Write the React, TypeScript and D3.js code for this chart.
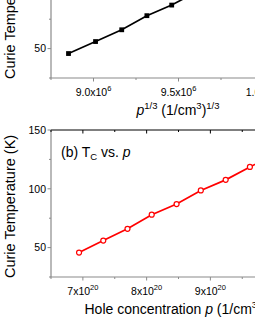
import React, { useEffect, useRef } from 'react';
import * as d3 from 'd3';

// Curie temperature (K), shared by both panels
const curieT = [45.8, 56, 66, 78, 87, 98.6, 107.6, 118.6, 129];
// hole concentration p, in units of 1e20 cm^-3
const holeConc = [6.94, 7.32, 7.7, 8.08, 8.47, 8.85, 9.24, 9.62, 10.0];
// p^(1/3), in units of 1e6 cm^-1
const pCbrt = [8.853, 9.012, 9.166, 9.314, 9.46, 9.61, 9.75, 9.87, 10.0];

const yMajor = [50, 100, 150];
const yMinor = [25, 75, 125];
const topMajor = [9.0, 9.5, 10.0];
const topMinor = [8.75, 9.25, 9.75, 10.25];
const topTickText = [['9.0x10', '6'], ['9.5x10', '6'], ['1.0x10', '7']];
const botMajor = [7, 8, 9, 10];
const botMinor = [6.5, 7.5, 8.5, 9.5, 10.5];

const FONT = 'Arial, "Liberation Sans", sans-serif';
const AXIS = '#8a8a8a';

const drawPanel = (svg, opts) => {
  const { top, bottom, xDomain, xs, major, minor, tickText, color, marker } = opts;
  const left = 51;
  const right = 306;
  const x = d3.scaleLinear().domain(xDomain).range([left, right]);
  const y = d3.scaleLinear().domain([25, 150]).range([bottom, top]);
  const g = svg.append('g');

  // frame
  g.append('line').attr('x1', left).attr('x2', right).attr('y1', top).attr('y2', top)
    .attr('stroke', '#000').attr('stroke-width', 1);
  g.append('line').attr('x1', left).attr('x2', left).attr('y1', top).attr('y2', bottom)
    .attr('stroke', AXIS).attr('stroke-width', 1.2);
  g.append('line').attr('x1', left - 0.6).attr('x2', right).attr('y1', bottom).attr('y2', bottom)
    .attr('stroke', AXIS).attr('stroke-width', 1.2);

  // y ticks (outward, left)
  yMajor.forEach(v => {
    g.append('line').attr('x1', left - 3.5).attr('x2', left).attr('y1', y(v)).attr('y2', y(v))
      .attr('stroke', AXIS).attr('stroke-width', 1);
    g.append('text').attr('x', left - 5).attr('y', y(v) + 3.7).attr('text-anchor', 'end')
      .attr('font-size', 10.5).attr('font-family', FONT).text(v);
  });
  yMinor.forEach(v => {
    g.append('line').attr('x1', left - 2).attr('x2', left).attr('y1', y(v)).attr('y2', y(v))
      .attr('stroke', AXIS).attr('stroke-width', 1);
  });

  // x ticks: bottom outward, top inward
  major.forEach((v, i) => {
    g.append('line').attr('x1', x(v)).attr('x2', x(v)).attr('y1', bottom).attr('y2', bottom + 3.5)
      .attr('stroke', AXIS).attr('stroke-width', 1);
    g.append('line').attr('x1', x(v)).attr('x2', x(v)).attr('y1', top).attr('y2', top + 3.5)
      .attr('stroke', '#000').attr('stroke-width', 1);
    const t = g.append('text').attr('x', x(v)).attr('y', bottom + 17.5).attr('text-anchor', 'middle')
      .attr('font-size', 10.5).attr('font-family', FONT);
    t.append('tspan').text(tickText[i][0]);
    t.append('tspan').attr('font-size', 7.5).attr('dy', -5).text(tickText[i][1]);
  });
  minor.forEach(v => {
    g.append('line').attr('x1', x(v)).attr('x2', x(v)).attr('y1', bottom).attr('y2', bottom + 2)
      .attr('stroke', AXIS).attr('stroke-width', 1);
    g.append('line').attr('x1', x(v)).attr('x2', x(v)).attr('y1', top).attr('y2', top + 2)
      .attr('stroke', '#000').attr('stroke-width', 1);
  });

  // y title
  g.append('text').attr('transform', `translate(14.5,${bottom + 1}) rotate(-90)`)
    .attr('font-size', 14.5).attr('font-family', FONT).text('Curie Temperature (K)');

  // series
  const line = d3.line().x(d => x(d[0])).y(d => y(d[1]));
  const pts = xs.map((v, i) => [v, curieT[i]]);
  g.append('path').attr('d', line(pts)).attr('fill', 'none')
    .attr('stroke', color).attr('stroke-width', 1.7);
  if (marker === 'square') {
    g.selectAll('.sq').data(pts).enter().append('rect')
      .attr('x', d => x(d[0]) - 2.4).attr('y', d => y(d[1]) - 2.4)
      .attr('width', 4.8).attr('height', 4.8).attr('fill', color);
  } else {
    g.selectAll('.ci').data(pts).enter().append('circle')
      .attr('cx', d => x(d[0])).attr('cy', d => y(d[1])).attr('r', 2.5)
      .attr('fill', '#fff').attr('stroke', color).attr('stroke-width', 1.2);
  }
  return g;
};

const drawChart = (node) => {
  const svg = d3.select(node);
  svg.selectAll('*').remove();

  // (a) Tc vs p^(1/3), cropped at the top
  drawPanel(svg, {
    top: -69, bottom: 78, xDomain: [8.75, 10.25], xs: pCbrt,
    major: topMajor, minor: topMinor, tickText: topTickText, color: '#000', marker: 'square'
  });
  const tA = svg.append('text').attr('x', 178).attr('y', 115).attr('text-anchor', 'middle')
    .attr('font-size', 14).attr('font-family', FONT);
  tA.append('tspan').attr('font-style', 'italic').text('p');
  tA.append('tspan').attr('font-size', 9.5).attr('dy', -6).text('1/3');
  tA.append('tspan').attr('dy', 6).text(' (1/cm');
  tA.append('tspan').attr('font-size', 9.5).attr('dy', -6).text('3');
  tA.append('tspan').attr('dy', 6).text(')');
  tA.append('tspan').attr('font-size', 9.5).attr('dy', -6).text('1/3');

  // (b) Tc vs p
  const g = drawPanel(svg, {
    top: 130, bottom: 277, xDomain: [6.5, 10.5], xs: holeConc,
    major: botMajor, minor: botMinor, tickText: botMajor.map(v => [`${v}x10`, '20']),
    color: '#f00', marker: 'circle'
  });
  const lb = g.append('text').attr('x', 61).attr('y', 157).attr('font-size', 14).attr('font-family', FONT);
  lb.append('tspan').text('(b) T');
  lb.append('tspan').attr('font-size', 9.5).attr('dy', 3).text('C');
  lb.append('tspan').attr('dy', -3).text(' vs. ');
  lb.append('tspan').attr('font-style', 'italic').text('p');

  const tB = svg.append('text').attr('x', 84.5).attr('y', 314)
    .attr('font-size', 14).attr('font-family', FONT);
  tB.append('tspan').text('Hole concentration ');
  tB.append('tspan').attr('font-style', 'italic').text('p');
  tB.append('tspan').text(' (1/cm');
  tB.append('tspan').attr('font-size', 9.5).attr('dy', -6).text('3');
  tB.append('tspan').attr('dy', 6).text(')');
};

const App = () => {
  const ref = useRef(null);
  useEffect(() => {
    drawChart(ref.current);
  }, []);
  return (
    <svg ref={ref} width={255} height={330}
      style={{ position: 'absolute', left: 0, top: 0, background: '#fff', overflow: 'hidden' }} />
  );
};

export default App;
